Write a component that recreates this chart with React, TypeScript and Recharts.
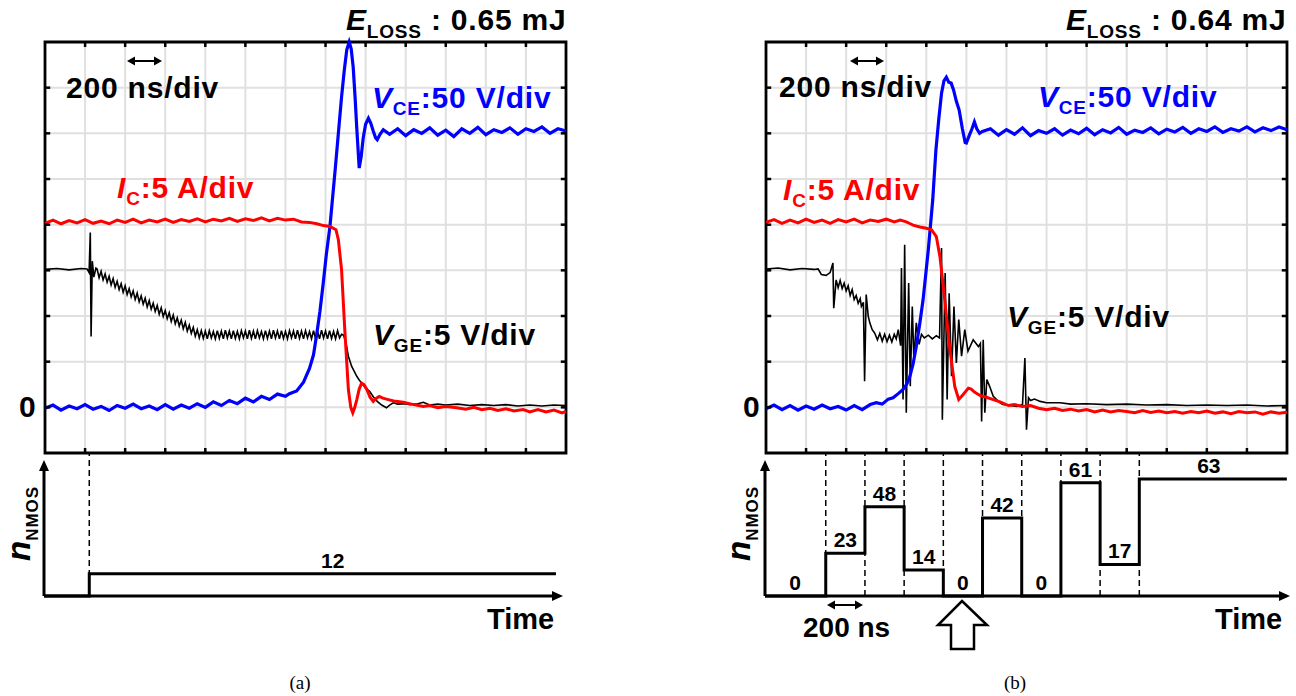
import React from "react";
import {
  LineChart, ComposedChart, Line, Scatter, XAxis, YAxis, CartesianGrid,
  ReferenceArea, ReferenceLine, ReferenceDot,
} from "recharts";

type Pt = [number, number];

// scope grid: 13 time divisions (200 ns/div), 9 level divisions (zero at 0)
const TIME_DIVS = [0, 1, 2, 3, 4, 5, 6, 7, 8, 9, 10, 11, 12, 13];
const LEVEL_DIVS = [-1, 0, 1, 2, 3, 4, 5, 6, 7, 8];

// (a) traces, [time div, level div]
const VCE_A: Pt[] = [
  [0, -0.02], [0.2, 0.05], [0.4, -0.06], [0.6, 0.03], [0.8, -0.03], [1.0, 0.06], [1.2, -0.04], [1.4, 0.02],
  [1.6, -0.07], [1.8, 0.04], [2.0, -0.02], [2.2, 0.07], [2.4, -0.03], [2.6, 0.03], [2.8, -0.05], [3.0, 0.06],
  [3.2, -0.04], [3.4, 0.05], [3.6, -0.02], [3.8, 0.08], [4.0, 0.0], [4.2, 0.12], [4.4, 0.04], [4.6, 0.15],
  [4.8, 0.08], [5.0, 0.2], [5.2, 0.12], [5.4, 0.24], [5.6, 0.17], [5.8, 0.29], [6.0, 0.24], [6.1, 0.3],
  [6.28, 0.36], [6.45, 0.55], [6.6, 0.85], [6.7, 1.15], [6.78, 1.6], [6.86, 2.1], [6.94, 2.7], [7.02, 3.35],
  [7.11, 3.96], [7.24, 5.2], [7.32, 6.0], [7.4, 6.8], [7.47, 7.4], [7.53, 7.83], [7.59, 8.0], [7.64, 7.85],
  [7.69, 7.45], [7.74, 6.75], [7.78, 6.1], [7.84, 5.24], [7.89, 5.5], [7.94, 5.9], [8.0, 6.2], [8.07, 6.33],
  [8.13, 6.22], [8.19, 6.05], [8.25, 5.9], [8.29, 5.86], [8.36, 5.98], [8.44, 6.08], [8.6, 5.98], [8.8, 6.1],
  [9.0, 5.95], [9.2, 6.08], [9.4, 6.0], [9.6, 6.12], [9.8, 5.96], [10.0, 6.07], [10.2, 5.93], [10.4, 6.1],
  [10.6, 6.0], [10.8, 6.13], [11.0, 5.97], [11.2, 6.08], [11.4, 6.02], [11.6, 6.12], [11.8, 5.98], [12.0, 6.1],
  [12.2, 6.04], [12.4, 6.14], [12.6, 6.0], [12.8, 6.1], [13.0, 6.05],
];

const IC_A: Pt[] = [
  [0, 4.03], [0.2, 4.1], [0.4, 4.02], [0.6, 4.09], [0.8, 4.04], [1.0, 4.11], [1.2, 4.03], [1.4, 4.08],
  [1.6, 4.02], [1.8, 4.1], [2.0, 4.05], [2.2, 4.12], [2.4, 4.04], [2.6, 4.1], [2.8, 4.06], [3.0, 4.12],
  [3.2, 4.05], [3.4, 4.11], [3.6, 4.07], [3.8, 4.13], [4.0, 4.06], [4.2, 4.12], [4.4, 4.08], [4.6, 4.14],
  [4.8, 4.07], [5.0, 4.13], [5.2, 4.09], [5.4, 4.15], [5.6, 4.08], [5.8, 4.14], [6.0, 4.1], [6.2, 4.12],
  [6.4, 4.06], [6.6, 4.05], [6.78, 4.02], [6.95, 3.98], [7.11, 3.96], [7.26, 3.89], [7.32, 3.67], [7.4, 3.01],
  [7.48, 1.7], [7.57, 0.39], [7.63, 0.0], [7.68, -0.12], [7.73, 0.0], [7.78, 0.17], [7.84, 0.4], [7.9, 0.53],
  [7.96, 0.5], [8.03, 0.39], [8.11, 0.22], [8.19, 0.13], [8.27, 0.2], [8.34, 0.24], [8.43, 0.2], [8.52, 0.18],
  [8.7, 0.14], [8.94, 0.11], [9.2, 0.06], [9.44, 0.02], [9.6, 0.04], [9.8, -0.01], [10.0, 0.02], [10.27, -0.01],
  [10.5, -0.04], [10.7, 0.0], [10.9, -0.05], [11.1, -0.02], [11.3, -0.07], [11.5, -0.03], [11.7, -0.08], [11.93, -0.05],
  [12.1, -0.1], [12.3, -0.05], [12.5, -0.1], [12.7, -0.06], [12.9, -0.12], [13.0, -0.09],
];

const VGE_A: Pt[] = [
  [0, 3.02], [0.3, 3.04], [0.6, 3.01], [0.9, 3.04], [1.05, 3.03], [1.1, 2.95], [1.13, 3.83], [1.15, 1.55],
  [1.18, 3.2], [1.22, 2.85], [1.27, 3.05],
  [1.3, 3.03], [1.35, 2.84], [1.4, 2.98], [1.45, 2.79], [1.5, 2.92], [1.55, 2.74], [1.6, 2.87], [1.65, 2.68],
  [1.7, 2.82], [1.75, 2.63], [1.8, 2.76], [1.85, 2.58], [1.9, 2.71], [1.95, 2.52], [2.0, 2.66], [2.05, 2.47],
  [2.1, 2.6], [2.15, 2.42], [2.2, 2.55], [2.25, 2.36], [2.3, 2.5], [2.35, 2.31], [2.4, 2.44], [2.45, 2.26],
  [2.5, 2.39], [2.55, 2.2], [2.6, 2.34], [2.65, 2.15], [2.7, 2.28], [2.75, 2.1], [2.8, 2.23], [2.85, 2.04],
  [2.9, 2.18], [2.95, 1.99], [3.0, 2.12], [3.05, 1.94], [3.1, 2.07], [3.15, 1.88], [3.2, 2.02], [3.25, 1.83],
  [3.3, 1.96], [3.35, 1.78], [3.4, 1.91], [3.45, 1.72], [3.5, 1.86], [3.55, 1.67], [3.6, 1.8], [3.65, 1.62],
  [3.7, 1.75], [3.75, 1.56], [3.8, 1.7], [3.85, 1.52], [3.9, 1.68], [3.95, 1.51], [4.0, 1.67], [4.05, 1.5],
  [4.1, 1.68], [4.15, 1.52], [4.2, 1.66], [4.25, 1.5], [4.3, 1.68], [4.35, 1.51], [4.4, 1.67], [4.45, 1.5],
  [4.5, 1.69], [4.55, 1.52], [4.6, 1.67], [4.65, 1.5], [4.7, 1.68], [4.75, 1.51], [4.8, 1.66], [4.85, 1.5],
  [4.9, 1.68], [4.95, 1.52], [5.0, 1.67], [5.05, 1.5], [5.1, 1.69], [5.15, 1.51], [5.2, 1.67], [5.25, 1.5],
  [5.3, 1.68], [5.35, 1.52], [5.4, 1.66], [5.45, 1.5], [5.5, 1.68], [5.55, 1.51], [5.6, 1.67], [5.65, 1.5],
  [5.7, 1.69], [5.75, 1.52], [5.8, 1.67], [5.85, 1.5], [5.9, 1.68], [5.95, 1.51], [6.0, 1.66], [6.05, 1.5],
  [6.1, 1.68], [6.15, 1.52], [6.2, 1.67], [6.25, 1.5], [6.3, 1.69], [6.35, 1.51], [6.4, 1.67], [6.45, 1.5],
  [6.5, 1.68], [6.55, 1.52], [6.6, 1.66], [6.65, 1.5], [6.7, 1.68], [6.75, 1.51], [6.8, 1.67], [6.85, 1.5],
  [6.9, 1.69], [6.95, 1.52], [7.0, 1.67], [7.05, 1.5], [7.1, 1.68], [7.15, 1.51], [7.2, 1.66], [7.25, 1.5],
  [7.3, 1.68], [7.35, 1.52], [7.4, 1.6],
  [7.45, 1.58], [7.51, 1.41], [7.57, 1.12], [7.65, 0.9], [7.72, 0.78], [7.78, 0.68], [7.84, 0.6],
  [7.9, 0.53], [8.0, 0.42], [8.1, 0.35], [8.2, 0.22], [8.29, 0.13], [8.4, 0.05], [8.52, -0.01], [8.6, 0.05],
  [8.69, 0.1], [8.8, 0.07], [9.0, 0.08], [9.1, 0.06], [9.3, 0.08], [9.44, 0.11], [9.6, 0.05], [9.8, 0.07],
  [10.0, 0.05], [10.3, 0.07], [10.6, 0.04], [10.9, 0.06], [11.2, 0.04], [11.5, 0.06], [11.8, 0.03], [12.1, 0.05],
  [12.4, 0.03], [12.7, 0.05], [13.0, 0.04],
];

// (b) traces
const VCE_B: Pt[] = [
  [0, -0.03], [0.2, 0.05], [0.4, -0.05], [0.6, 0.04], [0.8, -0.06], [1.0, 0.03], [1.2, -0.04], [1.4, 0.05],
  [1.6, -0.03], [1.8, 0.02], [2.0, -0.06], [2.2, 0.04], [2.4, -0.05], [2.6, 0.06], [2.75, 0.1], [2.9, 0.07],
  [3.05, 0.18], [3.17, 0.21], [3.3, 0.3], [3.42, 0.39], [3.52, 0.52], [3.59, 0.68], [3.67, 0.95], [3.75, 1.33],
  [3.84, 1.85], [3.92, 2.36], [4.05, 3.45], [4.16, 4.54], [4.24, 5.64], [4.31, 6.3], [4.38, 6.88], [4.44, 7.15],
  [4.5, 7.23], [4.56, 7.12], [4.62, 7.1], [4.68, 6.95], [4.75, 6.7], [4.82, 6.51], [4.9, 6.1], [4.97, 5.8],
  [5.0, 5.79], [5.07, 5.95], [5.14, 6.1], [5.2, 6.25], [5.26, 6.1], [5.33, 6.0], [5.4, 6.04], [5.6, 6.1],
  [5.8, 5.96], [6.0, 6.08], [6.2, 5.98], [6.4, 6.12], [6.6, 5.95], [6.8, 6.06], [7.0, 6.0], [7.2, 6.1],
  [7.4, 5.96], [7.6, 6.07], [7.8, 5.99], [8.0, 6.11], [8.2, 5.97], [8.4, 6.08], [8.6, 6.01], [8.8, 6.13],
  [9.0, 5.98], [9.2, 6.07], [9.4, 6.02], [9.6, 6.12], [9.8, 5.99], [10.0, 6.09], [10.2, 6.03], [10.4, 6.13],
  [10.6, 6.0], [10.8, 6.1], [11.0, 6.04], [11.2, 6.14], [11.4, 6.02], [11.6, 6.1], [11.8, 6.05], [12.0, 6.14],
  [12.2, 6.03], [12.4, 6.12], [12.6, 6.06], [12.8, 6.14], [13.0, 6.08],
];

const IC_B: Pt[] = [
  [0, 4.05], [0.2, 4.11], [0.4, 4.03], [0.6, 4.1], [0.8, 4.04], [1.0, 4.12], [1.2, 4.05], [1.4, 4.1],
  [1.6, 4.03], [1.8, 4.11], [2.0, 4.06], [2.2, 4.12], [2.4, 4.04], [2.6, 4.1], [2.8, 4.07], [3.0, 4.12],
  [3.2, 4.06], [3.35, 4.1], [3.5, 4.06], [3.6, 4.02], [3.67, 3.99], [3.84, 3.95], [4.0, 3.92], [4.13, 3.89],
  [4.25, 3.74], [4.34, 3.3], [4.46, 2.36], [4.59, 1.26], [4.71, 0.46], [4.81, 0.17], [4.92, 0.28], [5.05, 0.42],
  [5.12, 0.4], [5.21, 0.33], [5.34, 0.26], [5.5, 0.22], [5.67, 0.17], [5.84, 0.12], [6.05, 0.04], [6.2, 0.06],
  [6.4, 0.02], [6.6, 0.04], [6.8, -0.02], [7.0, -0.05], [7.2, -0.02], [7.4, -0.07], [7.6, -0.04], [7.8, -0.08],
  [8.0, -0.05], [8.2, -0.1], [8.4, -0.06], [8.6, -0.1], [8.8, -0.07], [9.0, -0.09], [9.2, -0.12], [9.4, -0.07],
  [9.6, -0.11], [9.8, -0.08], [10.0, -0.12], [10.2, -0.09], [10.4, -0.13], [10.6, -0.09], [10.8, -0.12], [11.0, -0.08],
  [11.2, -0.13], [11.4, -0.1], [11.6, -0.14], [11.8, -0.09], [12.0, -0.12], [12.2, -0.1], [12.4, -0.15], [12.6, -0.1],
  [12.8, -0.13], [13.0, -0.11],
];

const VGE_B: Pt[] = [
  [0, 3.03], [0.3, 3.05], [0.6, 3.01], [0.9, 3.04], [1.2, 3.02], [1.3, 3.03], [1.38, 2.91], [1.5, 2.89],
  [1.6, 2.95], [1.67, 3.16], [1.69, 2.17], [1.75, 2.79], [1.8, 2.62], [1.85, 2.78], [1.9, 2.6], [1.95, 2.72],
  [2.0, 2.55], [2.05, 2.66], [2.1, 2.45], [2.15, 2.58], [2.2, 2.36], [2.25, 2.45], [2.3, 2.28], [2.35, 2.38],
  [2.38, 2.21], [2.43, 2.3], [2.46, 0.57], [2.5, 2.47], [2.55, 2.0], [2.59, 1.85], [2.65, 1.7], [2.71, 1.63],
  [2.78, 1.48], [2.84, 1.62], [2.9, 1.45], [2.96, 1.6], [3.02, 1.44], [3.08, 1.58], [3.14, 1.43], [3.2, 1.6],
  [3.25, 1.5], [3.3, 1.7], [3.36, 1.35], [3.38, 3.05], [3.42, 0.17], [3.46, 3.56], [3.5, -0.12], [3.56, 2.72],
  [3.6, 0.46], [3.65, 2.21], [3.69, 1.04], [3.75, 1.85], [3.82, 1.38], [3.88, 1.6], [3.95, 1.52], [4.05, 1.58],
  [4.15, 1.5], [4.25, 1.57], [4.33, 1.52], [4.38, 3.49], [4.4, -0.27], [4.47, 2.94], [4.52, 0.17], [4.57, 2.5],
  [4.63, 0.68], [4.69, 2.21], [4.75, 0.97], [4.81, 1.92], [4.88, 1.12], [4.96, 1.7], [5.04, 1.23], [5.17, 1.48],
  [5.3, 1.33], [5.35, 1.4], [5.38, -0.31], [5.42, 1.48], [5.46, -0.12], [5.51, 0.61], [5.58, 0.46], [5.67, 0.24],
  [5.84, 0.1], [5.91, 0.06], [6.09, 0.04], [6.26, 0.02], [6.4, 0.06], [6.46, 1.08], [6.5, -0.49], [6.55, 0.21],
  [6.6, 0.15], [6.7, 0.18], [6.84, 0.13], [7.0, 0.1], [7.34, 0.1], [7.6, 0.07], [8.0, 0.08], [8.5, 0.06],
  [9.0, 0.07], [9.5, 0.05], [10.0, 0.06], [10.5, 0.04], [11.0, 0.05], [11.5, 0.04], [12.0, 0.05], [12.5, 0.03],
  [13.0, 0.04],
];

// gate-driver NMOS count, time in ns from the first switching instant
const STEP_A_T = [-231, 0, 2381];
const STEP_A_N = [0, 12, 12];
const LABEL_A_T = [1242];
const LABEL_A_N = [12];
const MARKS_A = [0];

const STEP_B_T = [-310, 0, 200, 400, 600, 800, 1000, 1200, 1400, 1600, 2353];
const STEP_B_N = [0, 23, 48, 14, 0, 42, 0, 61, 17, 63, 63];
const LABEL_B_T = [-157, 100, 300, 500, 700, 900, 1100, 1300, 1500, 1955];
const LABEL_B_N = [0, 23, 48, 14, 0, 42, 0, 61, 17, 63];
const MARKS_B = [0, 200, 400, 600, 800, 1000, 1200, 1400, 1600];

const FONT = "'Liberation Sans', Arial, Helvetica, sans-serif";
const SERIF = "'Liberation Serif', 'Times New Roman', serif";

const toRows = (pts: Pt[]) => pts.map(([t, v]) => ({ t, v }));

function Scope({ left, vge, vce, ic }: { left: number; vge: Pt[]; vce: Pt[]; ic: Pt[] }) {
  const tickLines: React.ReactElement[] = [];
  TIME_DIVS.slice(1, -1).forEach((k) => {
    tickLines.push(<ReferenceLine key={"b" + k} segment={[{ x: k, y: -1 }, { x: k, y: -0.89 }]} stroke="#000" strokeWidth={2.5} />);
    tickLines.push(<ReferenceLine key={"t" + k} segment={[{ x: k, y: 8 }, { x: k, y: 7.89 }]} stroke="#000" strokeWidth={2.5} />);
  });
  LEVEL_DIVS.slice(1, -1).forEach((k) => {
    tickLines.push(<ReferenceLine key={"l" + k} segment={[{ x: 0, y: k }, { x: 0.13, y: k }]} stroke="#000" strokeWidth={2.5} />);
    tickLines.push(<ReferenceLine key={"r" + k} segment={[{ x: 13, y: k }, { x: 12.87, y: k }]} stroke="#000" strokeWidth={2.5} />);
  });
  return (
    <div style={{ position: "absolute", left: left - 6, top: 36 }}>
      <LineChart width={533} height={423} margin={{ top: 6, right: 6, bottom: 6, left: 6 }}>
        <CartesianGrid stroke="#e0e0e0" strokeWidth={2} />
        <XAxis type="number" dataKey="t" domain={[0, 13]} ticks={TIME_DIVS} hide />
        <YAxis type="number" domain={[-1, 8]} ticks={LEVEL_DIVS} hide />
        <Line data={toRows(vge)} dataKey="v" type="linear" stroke="#000" strokeWidth={1.6} dot={false} isAnimationActive={false} />
        <Line data={toRows(vce)} dataKey="v" type="linear" stroke="#0000ff" strokeWidth={3.2} dot={false} isAnimationActive={false} />
        <Line data={toRows(ic)} dataKey="v" type="linear" stroke="#ff0000" strokeWidth={3} dot={false} isAnimationActive={false} />
        {tickLines}
        <ReferenceArea x1={0} x2={13} y1={-1} y2={8} fill="none" fillOpacity={0} stroke="#000" strokeWidth={2.8} />
      </LineChart>
    </div>
  );
}

const arrowUp = (p: any) => (
  <polygon points={`${p.cx},${p.cy} ${p.cx - 5},${p.cy + 11} ${p.cx + 5},${p.cy + 11}`} fill="#000" />
);
const arrowRight = (p: any) => (
  <polygon points={`${p.cx},${p.cy} ${p.cx - 11},${p.cy - 5} ${p.cx - 11},${p.cy + 5}`} fill="#000" />
);
const levelLabel = (p: any) => (
  <text x={p.cx} y={p.cy - 6} textAnchor="middle" fontFamily={FONT} fontWeight={700} fontSize={21} fill="#000">
    {p.payload.n}
  </text>
);

function StepPlot({ left, width, domain, times, counts, labelT, labelN, marks }: {
  left: number; width: number; domain: [number, number]; times: number[]; counts: number[];
  labelT: number[]; labelN: number[]; marks: number[];
}) {
  const rows = times.map((t, i) => ({ t, n: counts[i] }));
  const labels = labelT.map((t, i) => ({ t, n: labelN[i] }));
  return (
    <div style={{ position: "absolute", left: left - 8, top: 445 }}>
      <ComposedChart width={width + 16} height={159} margin={{ top: 8, right: 8, bottom: 8, left: 8 }}>
        <XAxis type="number" dataKey="t" domain={domain} hide />
        <YAxis type="number" domain={[0, 77]} hide />
        {marks.map((t) => (
          <ReferenceLine key={t} x={t} stroke="#000" strokeWidth={1.5} strokeDasharray="6 4" />
        ))}
        <ReferenceLine segment={[{ x: domain[0], y: 0 }, { x: domain[1] - 20, y: 0 }]} stroke="#000" strokeWidth={3} />
        <ReferenceLine segment={[{ x: domain[0], y: 0 }, { x: domain[0], y: 70 }]} stroke="#000" strokeWidth={3} />
        <ReferenceDot x={domain[0]} y={73.2} r={0} shape={arrowUp} />
        <ReferenceDot x={domain[1]} y={0} r={0} shape={arrowRight} />
        <Line data={rows} dataKey="n" type="stepAfter" stroke="#000" strokeWidth={3} dot={false} isAnimationActive={false} />
        <Scatter data={labels} dataKey="n" shape={levelLabel} isAnimationActive={false} />
      </ComposedChart>
    </div>
  );
}

function DoubleArrow({ x1, x2, y }: { x1: number; x2: number; y: number }) {
  return (
    <g>
      <line x1={x1 + 4} x2={x2 - 4} y1={y} y2={y} stroke="#000" strokeWidth={2} />
      <polygon points={`${x1},${y} ${x1 + 8},${y - 4.5} ${x1 + 8},${y + 4.5}`} fill="#000" />
      <polygon points={`${x2},${y} ${x2 - 8},${y - 4.5} ${x2 - 8},${y + 4.5}`} fill="#000" />
    </g>
  );
}

function Annotations() {
  const big: React.CSSProperties = { fontFamily: FONT, fontWeight: 700, fontSize: 30, letterSpacing: 0.8, whiteSpace: "pre" };
  const sub = 19;
  const eloss = (x: number, val: string) => (
    <text x={x} y={30} style={big} fill="#000">
      <tspan fontStyle="italic">E</tspan>
      <tspan fontSize={sub} dy={8}>LOSS</tspan>
      <tspan dy={-8}>{" : " + val + " mJ"}</tspan>
    </text>
  );
  const vLabel = (x: number, y: number, sym: string, sb: string, rest: string, color: string) => (
    <text x={x} y={y} style={big} fill={color}>
      <tspan fontStyle="italic">{sym}</tspan>
      <tspan fontSize={sub} dy={7}>{sb}</tspan>
      <tspan dy={-7}>{rest}</tspan>
    </text>
  );
  const nLabel = (x: number) => (
    <text x={x} y={561} transform={`rotate(-90 ${x} 561)`} fontFamily={FONT} fontWeight={700} fill="#000">
      <tspan fontStyle="italic" fontSize={33}>n</tspan>
      <tspan fontSize={17} dy={8} style={{ letterSpacing: 1 }}>NMOS</tspan>
    </text>
  );
  return (
    <svg width={1296} height={696} style={{ position: "absolute", left: 0, top: 0, pointerEvents: "none" }}>
      {/* panel (a) */}
      {eloss(346, "0.65")}
      <DoubleArrow x1={127} x2={162} y={61} />
      <text x={66} y={98} style={big}>200 ns/div</text>
      {vLabel(372, 108, "V", "CE", ":50 V/div", "#0000ff")}
      {vLabel(117, 198, "I", "C", ":5 A/div", "#ff0000")}
      {vLabel(373, 345, "V", "GE", ":5 V/div", "#000")}
      <text x={19} y={417} style={big}>0</text>
      {nLabel(30)}
      <text x={487} y={629} style={{ ...big, fontSize: 29, letterSpacing: 0 }}>Time</text>
      <text x={300} y={689} textAnchor="middle" fontFamily={SERIF} fontSize={19}>(a)</text>

      {/* panel (b) */}
      {eloss(1066, "0.64")}
      <DoubleArrow x1={850} x2={884} y={61} />
      <text x={779} y={97} style={big}>200 ns/div</text>
      {vLabel(1038, 107, "V", "CE", ":50 V/div", "#0000ff")}
      {vLabel(783, 200, "I", "C", ":5 A/div", "#ff0000")}
      {vLabel(1007, 327, "V", "GE", ":5 V/div", "#000")}
      <text x={743} y={417} style={big}>0</text>
      {nLabel(750)}
      <DoubleArrow x1={827} x2={863} y={605} />
      <text x={803} y={637} style={{ ...big, fontSize: 28, letterSpacing: 0 }}>200 ns</text>
      <polygon
        points="962,601 987,625 974,625 974,649 951,649 951,625 938,625"
        fill="#fff" stroke="#000" strokeWidth={2.5} strokeLinejoin="miter"
      />
      <text x={1215} y={629} style={{ ...big, fontSize: 29, letterSpacing: 0 }}>Time</text>
      <text x={1015} y={689} textAnchor="middle" fontFamily={SERIF} fontSize={19}>(b)</text>
    </svg>
  );
}

export default function App() {
  return (
    <div style={{ position: "absolute", left: 0, top: 0, width: 1296, height: 696, background: "#fff", overflow: "hidden" }}>
      <Scope left={45} vge={VGE_A} vce={VCE_A} ic={IC_A} />
      <Scope left={766} vge={VGE_B} vce={VCE_B} ic={IC_B} />
      <StepPlot left={44} width={519} domain={[-231, 2417]} times={STEP_A_T} counts={STEP_A_N}
        labelT={LABEL_A_T} labelN={LABEL_A_N} marks={MARKS_A} />
      <StepPlot left={765} width={525} domain={[-310, 2369]} times={STEP_B_T} counts={STEP_B_N}
        labelT={LABEL_B_T} labelN={LABEL_B_N} marks={MARKS_B} />
      <Annotations />
    </div>
  );
}
